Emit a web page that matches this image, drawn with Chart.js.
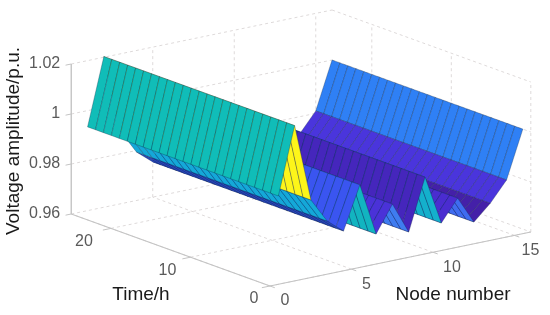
<!DOCTYPE html>
<html>
<head>
<meta charset="utf-8">
<title>Voltage amplitude</title>
<script src="https://cdn.jsdelivr.net/npm/chart.js@4/dist/chart.umd.min.js"></script>
<style>
  html, body { margin: 0; padding: 0; background: #fff; }
  canvas { display: block; }
</style>
</head>
<body>
<canvas id="surfaceChart" width="550" height="315"></canvas>
<script>
// datos
const timeHours = [1, 2, 3, 4, 5, 6, 7, 8, 9, 10, 11, 12, 13, 14, 15, 16, 17, 18, 19, 20, 21, 22, 23, 24, 25];
const nodeNumbers = [1, 2, 3, 4, 5, 6, 7, 8, 9, 10, 11, 12, 13, 14, 15, 16];
const nodeVoltage = [0.9935, 1.0203, 0.9892, 0.9794, 0.9741, 0.9912, 0.9702, 0.9808, 0.9683, 0.9889, 0.9692, 0.9778, 0.9669, 0.973, 0.981, 1.0];
const stripColors = ['#10bdb8', '#fdf51a', '#14a8d8', '#2a48c0', '#3a55f0', '#12b4c0', '#4a32d8', '#3f7cf0', '#4526bc', '#14b0cc', '#4a2cd0', '#3f6cf0', '#4420a8', '#4a35dc', '#2f80f5'];

const voltageTicks = [0.96, 0.98, 1, 1.02];
const timeTicks = [0, 10, 20];
const nodeTicks = [0, 5, 10, 15];
const voltageLabels = ['0.96', '0.98', '1', '1.02'];

const timeMax = 25;
const nodeMax = 16;
const voltageMin = 0.96;
const voltageMax = 1.02;

// proyeccion 3D a las unidades de las escalas
function project(node, time, volt) {
  return {
    x: 270 + 16.3 * node - 7.95 * time,
    y: 286 - 3.375 * node - 2.88 * time - (volt - voltageMin) * 2500
  };
}

const datasets = [];

function addLine(points, color, width, dash) {
  datasets.push({
    data: points,
    showLine: true,
    fill: false,
    borderColor: color,
    borderWidth: width,
    borderDash: dash || [],
    pointRadius: 0,
    tension: 0
  });
}

// superficie: lo primero del array se pinta encima (nodo y hora bajos)
nodeNumbers.slice(0, -1).forEach((node, i) => {
  timeHours.slice(0, -1).forEach((hour, j) => {
    const next = timeHours[j + 1];
    const v1 = nodeVoltage[i];
    const v2 = nodeVoltage[i + 1];
    const corners = [
      project(node, hour, v1),
      project(node + 1, hour, v2),
      project(node + 1, next, v2),
      project(node, next, v1)
    ];
    corners.push(corners[0]);
    datasets.push({
      data: corners,
      showLine: true,
      fill: 'shape',
      backgroundColor: stripColors[i],
      borderColor: 'rgba(10,30,60,0.42)',
      borderWidth: 0.7,
      borderJoinStyle: 'round',
      pointRadius: 0,
      tension: 0
    });
  });
});

// ejes
const axisColor = '#c4c4c4';
const gridColor = '#dedada';

addLine([project(0, timeMax, voltageMin), project(0, timeMax, voltageMax)], axisColor, 1.4);
addLine([project(0, timeMax, voltageMin), project(0, 0, voltageMin)], axisColor, 1.2);
addLine([project(0, 0, voltageMin), project(nodeMax, 0, voltageMin)], axisColor, 1.2);

voltageTicks.forEach(v => addLine([project(0, timeMax, v), project(-0.35, timeMax, v)], axisColor, 1));
timeTicks.forEach(t => addLine([project(0, t, voltageMin), project(-0.5, t, voltageMin)], axisColor, 1));
nodeTicks.forEach(n => addLine([project(n, 0, voltageMin), project(n, -0.6, voltageMin)], axisColor, 1));

// rejilla de paredes y suelo
const dash = [3, 3];
voltageTicks.forEach(v => {
  addLine([project(0, timeMax, v), project(nodeMax, timeMax, v)], gridColor, 1, dash);
  addLine([project(nodeMax, timeMax, v), project(nodeMax, 0, v)], gridColor, 1, dash);
});
nodeTicks.forEach(n => {
  addLine([project(n, 0, voltageMin), project(n, timeMax, voltageMin)], gridColor, 1, dash);
  if (n > 0) addLine([project(n, timeMax, voltageMin), project(n, timeMax, voltageMax)], gridColor, 1, dash);
});
timeTicks.forEach(t => {
  addLine([project(0, t, voltageMin), project(nodeMax, t, voltageMin)], gridColor, 1, dash);
  addLine([project(nodeMax, t, voltageMin), project(nodeMax, t, voltageMax)], gridColor, 1, dash);
});

// desplazamiento de etiquetas respecto al eje, en pixeles
const timeLabelDx = [-16, -23, -27];
const nodeLabelDx = [15, 15, 19, 16];

// textos de ejes
const axisText = {
  id: 'axisText',
  afterDatasetsDraw(chart) {
    const { ctx, scales } = chart;
    const put = (text, p, dx, dy, align, font, color) => {
      ctx.font = font;
      ctx.fillStyle = color;
      ctx.textAlign = align;
      ctx.textBaseline = 'middle';
      ctx.fillText(text, scales.x.getPixelForValue(p.x) + dx, scales.y.getPixelForValue(p.y) + dy);
    };
    const tickFont = '16px "Liberation Sans"';
    const titleFont = '19px "Liberation Sans"';
    const tickColor = '#5a5a5a';
    const titleColor = '#1a1a1a';

    voltageTicks.forEach((v, i) => put(voltageLabels[i], project(0, timeMax, v), -11, 0, 'right', tickFont, tickColor));
    timeTicks.forEach((t, i) => put(String(t), project(0, t, voltageMin), timeLabelDx[i], 13, 'center', tickFont, tickColor));
    nodeTicks.forEach((n, i) => put(String(n), project(n, 0, voltageMin), nodeLabelDx[i], 15, 'center', tickFont, tickColor));

    ctx.save();
    ctx.font = titleFont;
    ctx.fillStyle = titleColor;
    ctx.textAlign = 'center';
    ctx.textBaseline = 'middle';
    ctx.fillText('Time/h', 141, 295);
    ctx.fillText('Node number', 453, 295);
    ctx.translate(14, 141);
    ctx.rotate(-Math.PI / 2);
    ctx.fillText('Voltage amplitude/p.u.', 0, 0);
    ctx.restore();
  }
};

new Chart(document.getElementById('surfaceChart'), {
  type: 'scatter',
  data: { datasets },
  options: {
    responsive: false,
    animation: false,
    layout: { padding: 0 },
    plugins: { legend: { display: false }, tooltip: { enabled: false } },
    scales: {
      x: { type: 'linear', min: 0, max: 550, display: false },
      y: { type: 'linear', min: 0, max: 315, reverse: true, display: false }
    }
  },
  plugins: [axisText]
});
</script>
</body>
</html>
